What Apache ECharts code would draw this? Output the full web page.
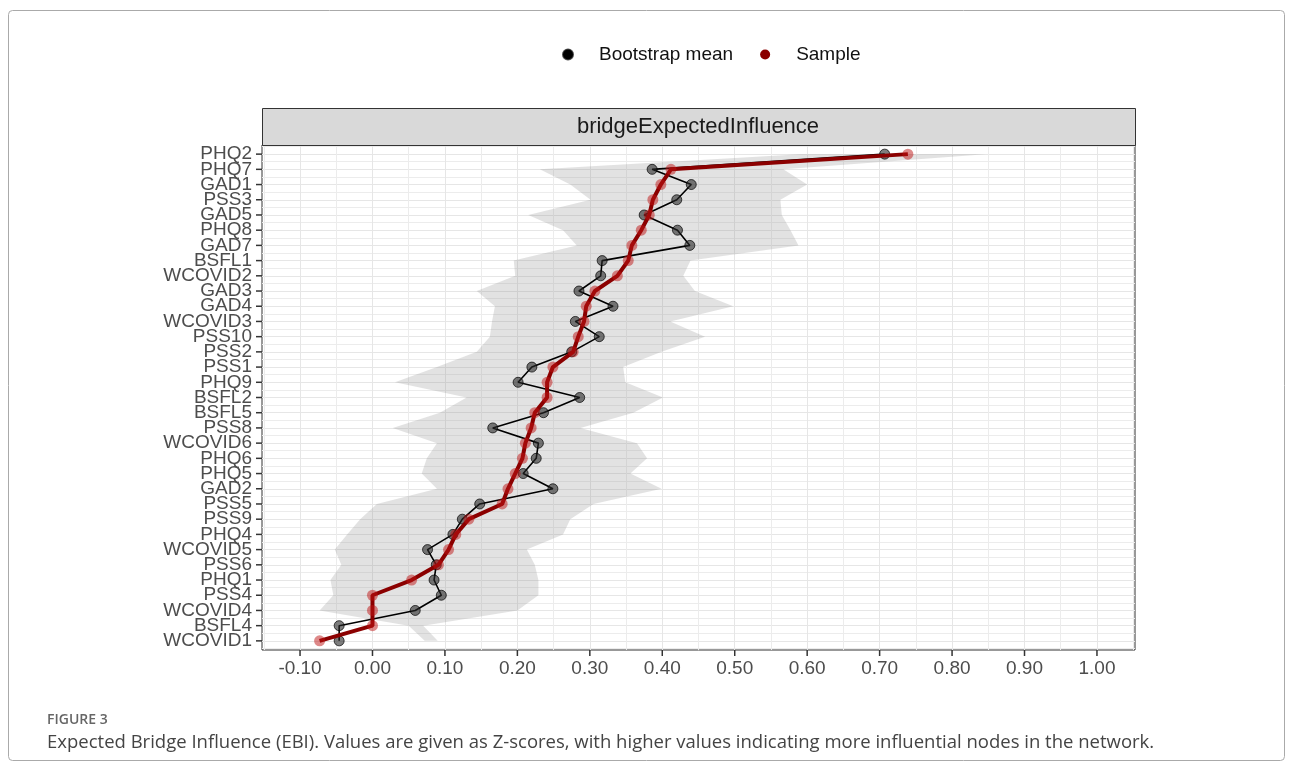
<!DOCTYPE html>
<html>
<head>
<meta charset="utf-8">
<script src="https://cdn.jsdelivr.net/npm/echarts@6/dist/echarts.min.js"></script>
<style>
  html, body { margin: 0; padding: 0; background: #fff; }
  #chart { width: 1292px; height: 771px; }
</style>
</head>
<body>
<div id="chart"></div>
<script>
// nodes, ordered by the sample value (top to bottom)
var nodes = ['PHQ2','PHQ7','GAD1','PSS3','GAD5','PHQ8','GAD7','BSFL1','WCOVID2','GAD3','GAD4',
  'WCOVID3','PSS10','PSS2','PSS1','PHQ9','BSFL2','BSFL5','PSS8','WCOVID6','PHQ6','PHQ5','GAD2',
  'PSS5','PSS9','PHQ4','WCOVID5','PSS6','PHQ1','PSS4','WCOVID4','BSFL4','WCOVID1'];

var sample = [0.739,0.412,0.398,0.387,0.382,0.371,0.358,0.353,0.338,0.307,0.295,
  0.292,0.284,0.277,0.249,0.241,0.241,0.224,0.219,0.211,0.207,0.197,0.187,
  0.179,0.133,0.115,0.105,0.091,0.054,0.0,0.0,0.0,-0.073];

var bootMean = [0.707,0.386,0.440,0.420,0.375,0.421,0.438,0.317,0.315,0.285,0.332,
  0.280,0.313,0.275,0.220,0.201,0.286,0.236,0.166,0.229,0.226,0.208,0.249,
  0.148,0.124,0.111,0.076,0.088,0.085,0.095,0.059,-0.046,-0.046];

// bootstrap interval (grey band)
var ciLower = [0.590,0.231,0.273,0.301,0.215,0.263,0.282,0.195,0.197,0.144,0.169,
  0.165,0.162,0.144,0.089,0.031,0.130,0.093,0.028,0.089,0.075,0.068,0.089,
  0.006,-0.017,-0.035,-0.052,-0.043,-0.058,-0.054,-0.073,0.050,0.072];
var ciUpper = [0.846,0.567,0.600,0.563,0.565,0.577,0.588,0.439,0.429,0.445,0.498,
  0.411,0.459,0.399,0.346,0.349,0.401,0.360,0.287,0.365,0.379,0.356,0.399,
  0.305,0.273,0.263,0.213,0.224,0.229,0.229,0.200,0.070,0.090];

var xTicks = [-0.1,0,0.1,0.2,0.3,0.4,0.5,0.6,0.7,0.8,0.9,1.0];
var xMinorTicks = [-0.15,-0.05,0.05,0.15,0.25,0.35,0.45,0.55,0.65,0.75,0.85,0.95,1.05];
var xMin = -0.1525, xMax = 1.0525;
var yMin = -0.6, yMax = nodes.length - 0.4;

// rows split in two sets so the tightly packed labels are not dropped
var yEven = [], yOdd = [], yHalf = [];
nodes.forEach(function (n, i) { (i % 2 === 0 ? yEven : yOdd).push(i); });
for (var k = -0.5; k <= nodes.length - 0.5; k += 1) yHalf.push(k);

var myChart = echarts.init(document.getElementById('chart'), null, { renderer: 'canvas' });

var gridLine = { show: true, lineStyle: { color: '#e6e6e6', width: 1 } };
var minorLine = { show: true, lineStyle: { color: '#ececec', width: 1 } };

function nodeAxis(values) {
  return {
    type: 'value', min: yMin, max: yMax, inverse: true, position: 'left',
    axisLine: { show: false, onZero: false },
    axisTick: { show: false, customValues: values },
    axisLabel: {
      customValues: values, margin: 10, fontSize: 19, color: '#4d4d4d',
      showMinLabel: true, showMaxLabel: true,
      formatter: function (v) { return nodes[Math.round(v)]; }
    },
    splitLine: gridLine
  };
}

var frameGraphic = [
  {
    type: 'rect', x: 8.5, y: 10.5, silent: true,
    shape: { width: 1276, height: 750, r: 4 },
    style: { fill: null, stroke: '#aaa', lineWidth: 1 }
  },
  {
    type: 'rect', x: 262.5, y: 108.5, silent: true,
    shape: { width: 873, height: 37 },
    style: { fill: '#d9d9d9', stroke: '#333', lineWidth: 1 }
  },
  {
    type: 'text', x: 698, y: 116, silent: true,
    style: { text: 'bridgeExpectedInfluence', fill: '#1a1a1a', font: '22px "Liberation Sans"', align: 'center' }
  },
  {
    type: 'text', x: 47, y: 713, silent: true,
    style: { text: 'FIGURE 3', fill: '#666', font: '600 14px "Open Sans"' }
  },
  {
    type: 'text', x: 47, y: 733, silent: true,
    style: {
      text: 'Expected Bridge Influence (EBI). Values are given as Z-scores, with higher values indicating more influential nodes in the network.',
      fill: '#444', font: '18.5px "Open Sans"'
    }
  }
];

var option = {
  animation: false,
  backgroundColor: '#fff',
  textStyle: { fontFamily: 'Liberation Sans' },
  legend: {
    left: 557,
    top: 40,
    itemWidth: 52,
    itemHeight: 10,
    itemGap: 27,
    textStyle: { fontSize: 19, color: '#111', fontFamily: 'Liberation Sans' },
    data: [
      { name: 'Bootstrap mean', icon: 'circle', itemStyle: { color: '#000' } },
      { name: 'Sample', icon: 'circle', itemStyle: { color: '#8B0000' } }
    ]
  },
  grid: {
    left: 262, right: 157, top: 145, bottom: 121,
    show: true, borderColor: '#333', borderWidth: 1, backgroundColor: '#fff'
  },
  xAxis: [
    {
      type: 'value', min: xMin, max: xMax, position: 'bottom',
      axisLine: { show: false, onZero: false },
      axisTick: { show: false, customValues: xTicks },
      axisLabel: {
        customValues: xTicks, margin: 9, fontSize: 19, color: '#4d4d4d',
        formatter: function (v) { return v.toFixed(2); }
      },
      splitLine: gridLine
    },
    {
      type: 'value', min: xMin, max: xMax, position: 'bottom',
      axisLine: { show: false, onZero: false },
      axisTick: { show: false, customValues: xMinorTicks },
      axisLabel: { show: false },
      splitLine: minorLine
    }
  ],
  yAxis: [
    nodeAxis(yEven),
    nodeAxis(yOdd),
    {
      type: 'value', min: yMin, max: yMax, inverse: true, position: 'left',
      axisLine: { show: false, onZero: false },
      axisTick: { show: false, customValues: yHalf },
      axisLabel: { show: false },
      splitLine: minorLine
    }
  ],
  series: [
    {
      type: 'custom',
      name: 'ci',
      xAxisIndex: 0, yAxisIndex: 0,
      silent: true,
      data: ciLower.map(function (v, i) { return [v, ciUpper[i], i]; }),
      encode: { x: [0, 1], y: 2 },
      renderItem: function (params, api) {
        if (params.dataIndex !== 0) return;
        var pts = [];
        for (var i = 0; i < nodes.length; i++) pts.push(api.coord([ciLower[i], i]));
        for (var j = nodes.length - 1; j >= 0; j--) pts.push(api.coord([ciUpper[j], j]));
        return {
          type: 'polygon',
          shape: { points: pts },
          style: { fill: 'rgba(140,140,140,0.25)' }
        };
      },
      z: 1
    },
    {
      type: 'line',
      name: 'Bootstrap mean',
      xAxisIndex: 0, yAxisIndex: 0,
      data: bootMean.map(function (v, i) { return [v, i]; }),
      symbol: 'circle',
      symbolSize: 10,
      lineStyle: { color: '#000', width: 1.6 },
      itemStyle: { color: 'rgba(40,40,40,0.6)', borderColor: 'rgba(0,0,0,0.7)', borderWidth: 1 },
      z: 3
    },
    {
      type: 'line',
      name: 'Sample',
      xAxisIndex: 0, yAxisIndex: 0,
      data: sample.map(function (v, i) { return [v, i]; }),
      symbol: 'circle',
      symbolSize: 11,
      lineStyle: { color: '#8B0000', width: 4 },
      itemStyle: { color: 'rgba(190,20,20,0.5)', borderWidth: 0 },
      z: 4
    }
  ],
  graphic: frameGraphic
};

myChart.setOption(option);

// outward tick marks, positioned through the chart's own scales
var tickMarks = [];
nodes.forEach(function (n, i) {
  var p = myChart.convertToPixel({ xAxisIndex: 0, yAxisIndex: 0 }, [xMin, i]);
  tickMarks.push({
    type: 'line', silent: true, z: 50,
    shape: { x1: p[0] - 6, y1: p[1], x2: p[0], y2: p[1] },
    style: { stroke: '#333', lineWidth: 1.5 }
  });
});
xTicks.forEach(function (v) {
  var p = myChart.convertToPixel({ xAxisIndex: 0, yAxisIndex: 0 }, [v, yMax]);
  tickMarks.push({
    type: 'line', silent: true, z: 50,
    shape: { x1: p[0], y1: p[1], x2: p[0], y2: p[1] + 6 },
    style: { stroke: '#333', lineWidth: 1.5 }
  });
});
myChart.setOption({ graphic: frameGraphic.concat(tickMarks) }, { replaceMerge: ['graphic'] });
</script>
</body>
</html>
